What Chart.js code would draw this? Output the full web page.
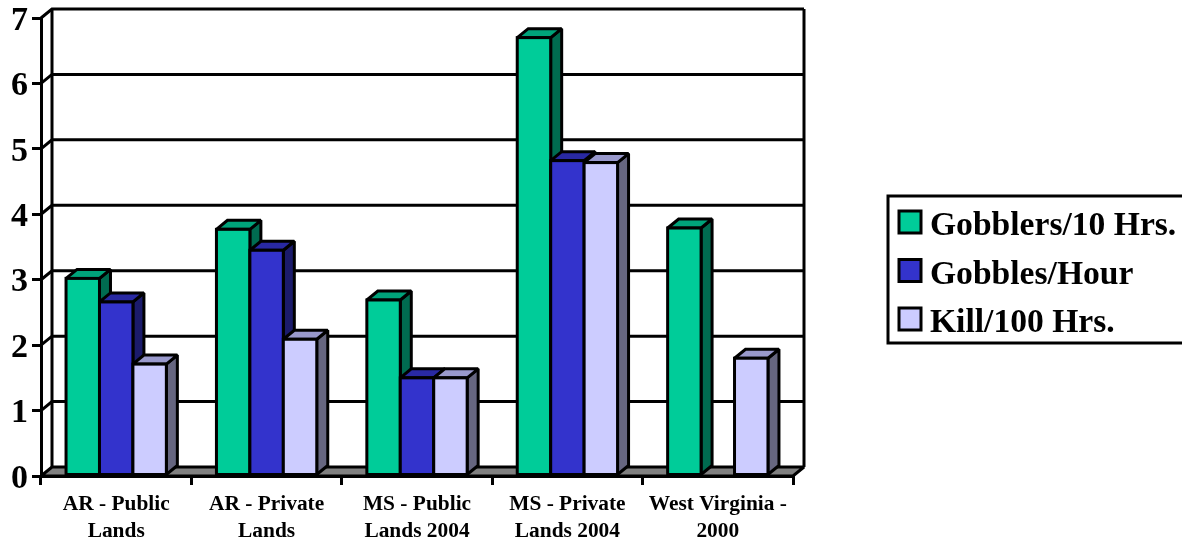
<!DOCTYPE html>
<html>

<head>
    <meta charset="utf-8">
    <title>Turkey Hunting Rates</title>
    <script src="https://cdn.jsdelivr.net/npm/chart.js"></script>
    <style>
        body {
            margin: 0;
            background: #fff;
            overflow: hidden;
        }

        canvas {
            display: block;
        }
    </style>
</head>

<body>
    <canvas id="barChart" width="1182" height="542"></canvas>

    <script>
        const categories = [
            ['AR - Public', 'Lands'],
            ['AR - Private', 'Lands'],
            ['MS - Public', 'Lands 2004'],
            ['MS - Private', 'Lands 2004'],
            ['West Virginia -', '2000']
        ];
        const gobblersPer10Hrs = [3.02, 3.77, 2.69, 6.7, 3.79];
        const gobblesPerHour = [2.66, 3.45, 1.5, 4.82, null];
        const killPer100Hrs = [1.71, 2.09, 1.5, 4.79, 1.8];
        const seriesNames = ['Gobblers/10 Hrs.', 'Gobbles/Hour', 'Kill/100 Hrs.'];
        const frontColors = ['#00CC99', '#3333CC', '#CCCCFF'];
        const sideColors = ['#006B50', '#1B1B6B', '#666680'];
        const topColors = ['#00A37A', '#2929A3', '#9999CC'];

        const FONT = '"Liberation Serif", "Times New Roman", serif';
        const DEPTH_X = 11;
        const DEPTH_Y = 9;

        function poly(ctx, pts, fill) {
            ctx.beginPath();
            pts.forEach((p, i) => i ? ctx.lineTo(p[0], p[1]) : ctx.moveTo(p[0], p[1]));
            ctx.closePath();
            if (fill) {
                ctx.fillStyle = fill;
                ctx.fill();
            }
            ctx.stroke();
        }

        // Square corners stay sharp, the acute ones on the 3D faces get cut off
        function setOutline(ctx) {
            ctx.strokeStyle = '#000';
            ctx.lineWidth = 3;
            ctx.lineJoin = 'miter';
            ctx.miterLimit = 2;
        }

        // Back wall, floor and the receding part of each gridline
        const wallPlugin = {
            id: 'walls',
            beforeDatasetsDraw(chart) {
                const { ctx, chartArea: a, scales: { y } } = chart;
                ctx.save();
                setOutline(ctx);
                y.ticks.forEach(t => {
                    const py = y.getPixelForValue(t.value);
                    if (t.value === 0) return;
                    ctx.beginPath();
                    ctx.moveTo(a.left, py);
                    ctx.lineTo(a.left + DEPTH_X, py - DEPTH_Y);
                    ctx.lineTo(a.right + DEPTH_X, py - DEPTH_Y);
                    ctx.stroke();
                });
                ctx.beginPath();
                ctx.moveTo(a.left + DEPTH_X, a.top - DEPTH_Y);
                ctx.lineTo(a.left + DEPTH_X, a.bottom - DEPTH_Y);
                ctx.moveTo(a.right + DEPTH_X, a.top - DEPTH_Y);
                ctx.lineTo(a.right + DEPTH_X, a.bottom - DEPTH_Y);
                ctx.stroke();
                poly(ctx, [
                    [a.left, a.bottom],
                    [a.right, a.bottom],
                    [a.right + DEPTH_X, a.bottom - DEPTH_Y],
                    [a.left + DEPTH_X, a.bottom - DEPTH_Y]
                ], '#808080');
                ctx.restore();
            },
            // Left-to-right repaint so each bar covers the side of its left neighbour
            afterDatasetsDraw(chart) {
                const { ctx } = chart;
                ctx.save();
                setOutline(ctx);
                categories.forEach((_, i) => {
                    chart.data.datasets.forEach((ds, d) => {
                        const bar = chart.getDatasetMeta(d).data[i];
                        if (ds.data[i] === null || !bar) return;
                        const { x, y, base, width } = bar.getProps(['x', 'y', 'base', 'width'], true);
                        const l = x - width / 2;
                        const r = x + width / 2;
                        poly(ctx, [[r, base], [r + DEPTH_X, base - DEPTH_Y], [r + DEPTH_X, y - DEPTH_Y], [r, y]], sideColors[d]);
                        poly(ctx, [[l, y], [l + DEPTH_X, y - DEPTH_Y], [r + DEPTH_X, y - DEPTH_Y], [r, y]], topColors[d]);
                        bar.draw(ctx);
                        ctx.strokeRect(l, y, width, base - y);
                    });
                });
                ctx.restore();
            }
        };

        // Boxed legend to the right of the plot
        const legendPlugin = {
            id: 'boxLegend',
            afterDraw(chart) {
                const { ctx } = chart;
                ctx.save();
                ctx.strokeStyle = '#000';
                ctx.lineWidth = 3;
                ctx.strokeRect(888, 196, 300, 147);
                ctx.font = 'bold 33.6px ' + FONT;
                ctx.textBaseline = 'alphabetic';
                ctx.textAlign = 'left';
                chart.data.datasets.forEach((ds, d) => {
                    const top = 211 + d * 48.5;
                    ctx.fillStyle = ds.backgroundColor;
                    ctx.fillRect(899, top, 22, 22);
                    ctx.strokeRect(899, top, 22, 22);
                    ctx.fillStyle = '#000';
                    ctx.fillText(ds.label, 930, top + 24);
                });
                ctx.restore();
            }
        };

        new Chart(document.getElementById('barChart').getContext('2d'), {
            type: 'bar',
            data: {
                labels: categories,
                datasets: [gobblersPer10Hrs, gobblesPerHour, killPer100Hrs].map((values, d) => ({
                    label: seriesNames[d],
                    data: values,
                    backgroundColor: frontColors[d],
                    borderWidth: 0,
                    categoryPercentage: 0.667,
                    barPercentage: 1
                }))
            },
            options: {
                responsive: false,
                animation: false,
                layout: {
                    padding: { top: 18, right: 389, left: 0, bottom: 0 }
                },
                plugins: {
                    legend: { display: false },
                    tooltip: { enabled: false }
                },
                scales: {
                    x: {
                        offset: true,
                        afterFit(scale) {
                            scale.height = 66;
                        },
                        grid: {
                            offset: true,
                            drawOnChartArea: false,
                            drawTicks: true,
                            tickLength: 9,
                            color: '#000',
                            lineWidth: 3
                        },
                        border: { display: true, color: '#000', width: 3 },
                        ticks: {
                            color: '#000',
                            maxRotation: 0,
                            autoSkip: false,
                            padding: 6,
                            font: { family: FONT, size: 21.4, weight: 'bold', lineHeight: 1.26 }
                        }
                    },
                    y: {
                        min: 0,
                        max: 7,
                        afterFit(scale) {
                            scale.width = 41;
                            scale.paddingTop = 0;
                            scale.paddingBottom = 0;
                        },
                        grid: {
                            drawOnChartArea: false,
                            drawTicks: true,
                            tickLength: 9,
                            color: '#000',
                            lineWidth: 3
                        },
                        border: { display: true, color: '#000', width: 3 },
                        ticks: {
                            color: '#000',
                            stepSize: 1,
                            padding: 4,
                            labelOffset: 3,
                            font: { family: FONT, size: 34, weight: 'bold', lineHeight: 1 }
                        }
                    }
                }
            },
            plugins: [wallPlugin, legendPlugin]
        });
    </script>
</body>

</html>
